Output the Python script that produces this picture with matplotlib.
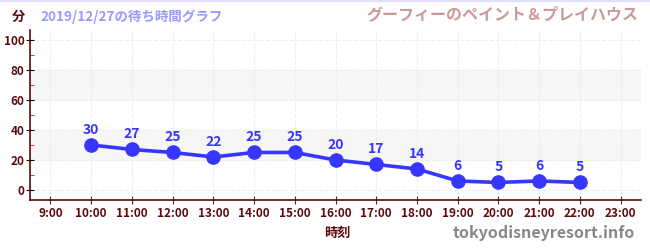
import numpy as np
import matplotlib
matplotlib.use('Agg')
import matplotlib.pyplot as plt
from matplotlib.ticker import MultipleLocator

plt.rcParams['font.family'] = ['Noto Sans CJK JP', 'DejaVu Sans']

# data
hours = [10, 11, 12, 13, 14, 15, 16, 17, 18, 19, 20, 21, 22]
waits = [30, 27, 25, 22, 25, 25, 20, 17, 14, 6, 5, 6, 5]
tick_hours = list(range(9, 24))
tick_labels = [f'{h}:00' for h in tick_hours]
bands = [(20, 40), (60, 80)]

dark = '#5a0a0a'
blue = '#3636ff'

fig = plt.figure(figsize=(6.5, 2.5), dpi=100)
ax = fig.add_axes([30 / 650, 50 / 250, 611 / 650, 170 / 250])

for lo, hi in bands:
    ax.axhspan(lo, hi, color='#f6f6f6', zorder=0)

ax.plot(hours, waits, color=blue, lw=2.6, marker='o', ms=9.5, zorder=3)
for h, w in zip(hours, waits):
    ax.annotate(str(w), (h, w), xytext=(0, 6), textcoords='offset points',
                ha='center', va='bottom', color=blue, fontsize=10,
                fontweight='bold')

ax.set_xlim(8.5, 23.5)
ax.set_ylim(-6.7, 106.7)
ax.set_xticks(tick_hours)
ax.set_xticklabels(tick_labels)
ax.set_yticks(range(0, 101, 20))
ax.yaxis.set_minor_locator(MultipleLocator(10))
ax.tick_params(axis='y', which='minor', color='red', length=3, direction='in')
ax.tick_params(axis='y', which='major', color='black', length=6,
               direction='inout', labelsize=8.5, labelcolor=dark, pad=1)
ax.tick_params(axis='x', which='major', color='#333333', length=6,
               direction='inout', labelsize=8.5, labelcolor=dark, pad=2)
for lab in ax.get_xticklabels() + ax.get_yticklabels():
    lab.set_fontweight('bold')

ax.grid(True, color='#ededed', ls='--', lw=0.8, zorder=1)
ax.set_axisbelow(True)
for s in ['top', 'right']:
    ax.spines[s].set_visible(False)
for s in ['left', 'bottom']:
    ax.spines[s].set_color(dark)
    ax.spines[s].set_linewidth(1.2)

fig.text(18 / 650, 1 - 17 / 250, '分', color=dark, fontsize=9.5,
         fontweight='bold', ha='center', va='center')
fig.text(40 / 650, 1 - 17 / 250, '2019/12/27の待ち時間グラフ', color='#9999ff',
         fontsize=9.7, fontweight='bold', ha='left', va='center')
fig.text(638 / 650, 1 - 14 / 250, 'グーフィーのペイント＆プレイハウス',
         color='#cc9999', fontsize=11.5, fontweight='bold', ha='right',
         va='center')
fig.text(337 / 650, 1 - 233 / 250, '時刻', color=dark, fontsize=9.5,
         fontweight='bold', ha='center', va='center')
fig.text(635 / 650, 1 - 233 / 250, 'tokyodisneyresort.info', color='#888888',
         fontsize=11.5, fontweight='bold', ha='right', va='center')
fig.add_artist(plt.Line2D([0, 1], [0.998, 0.998], color='#e0e0ff', lw=1.5))

fig.savefig('out.png', dpi=100)
